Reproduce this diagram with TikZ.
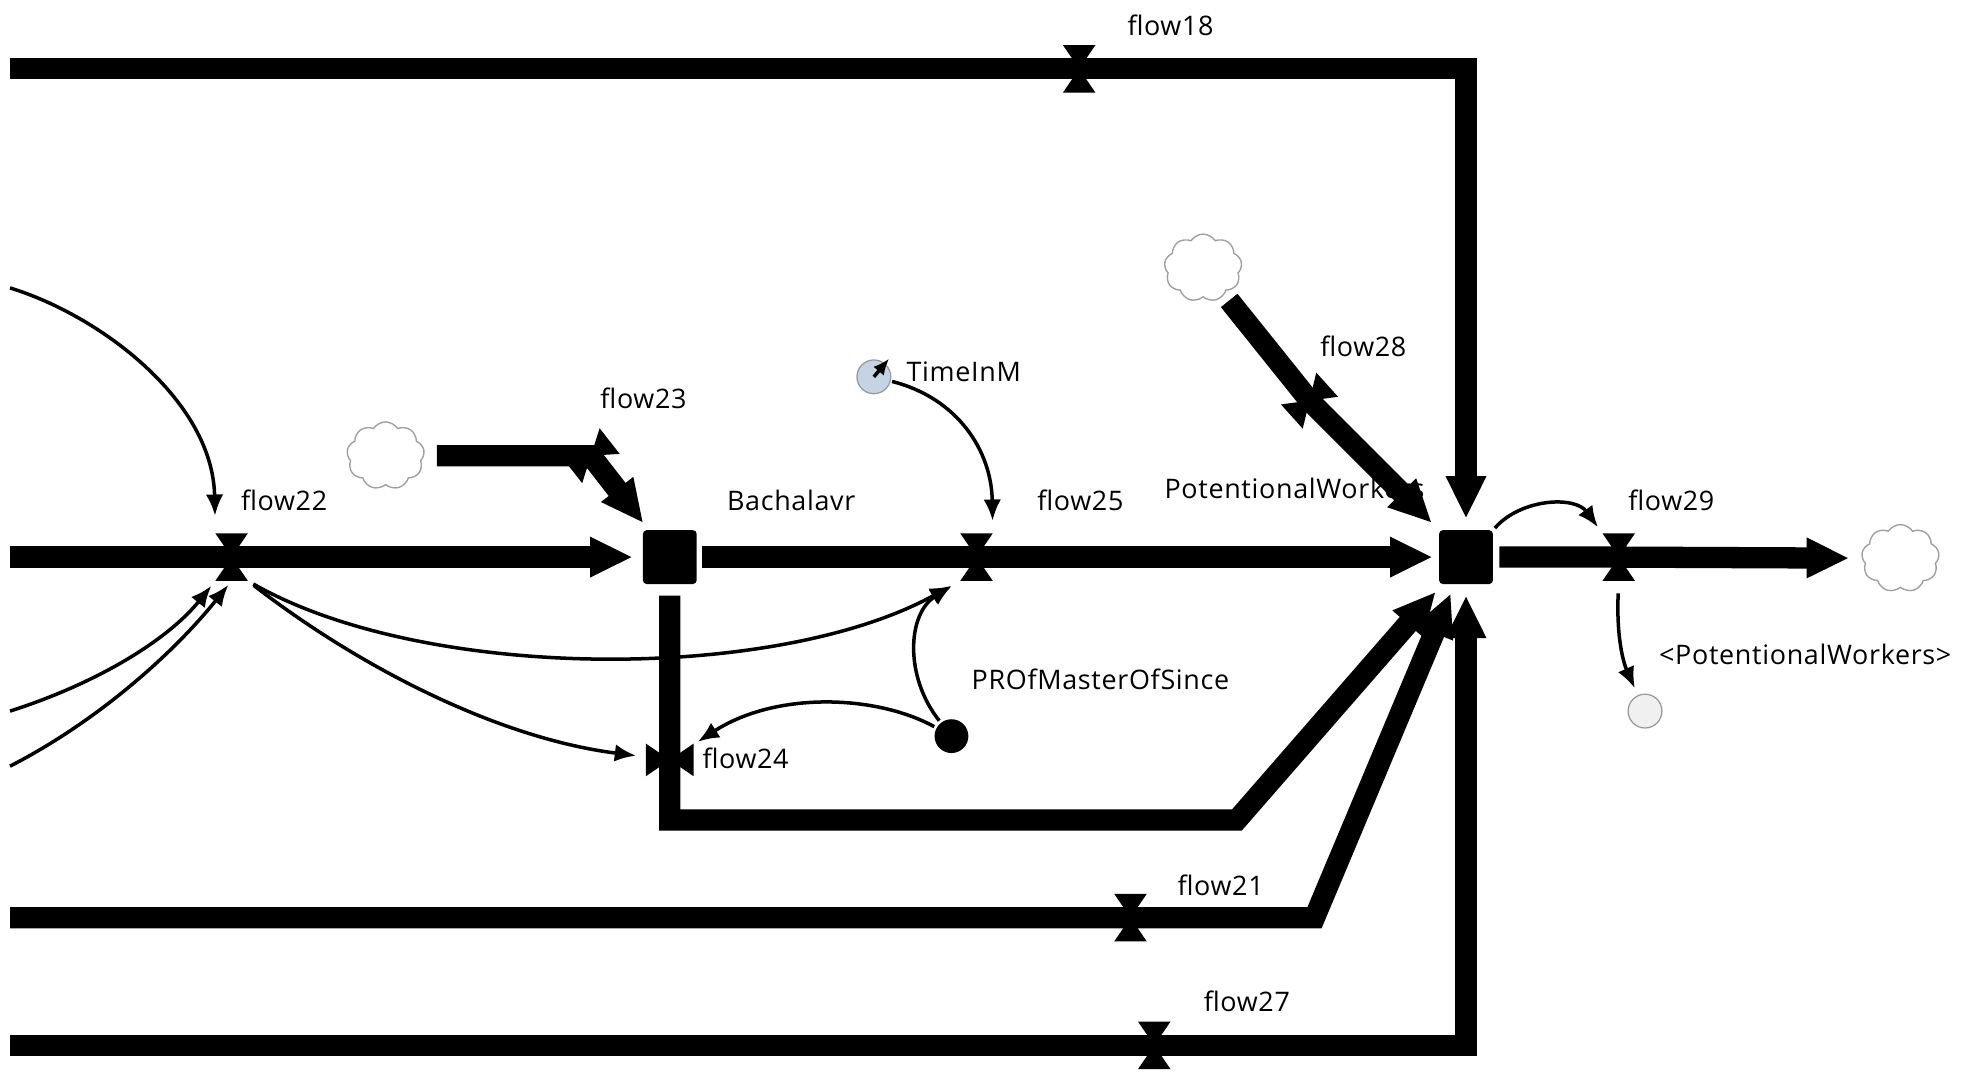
\documentclass[tikz,border=0pt]{standalone}
\usepackage{fontspec}
\setmainfont[LetterSpace=2.5]{Open Sans}
\usetikzlibrary{arrows.meta,shapes.symbols}
\definecolor{auxblue}{RGB}{196,212,228}
\tikzset{
  flow/.style={line width=17pt, line join=miter, -{Triangle[length=34pt 0 1,width=30pt 0 1]}},
  stock/.style={fill=black, rounded corners=3pt, minimum size=43pt, inner sep=0pt},
  valve/.style={minimum width=26pt, minimum height=38pt, inner sep=0pt, outer sep=0pt},
  cloudnode/.style={cloud, cloud puffs=9, cloud puff arc=115, aspect=1.15, draw=gray!75, line width=1.1pt, fill=white, minimum width=62pt, minimum height=54pt, inner sep=0pt},
  info/.style={line width=2.8pt, -{Latex[length=17pt 0 1,width=14pt 0 1]}},
  lbl/.style={font=\fontsize{21.5}{24}\selectfont, inner sep=0pt},
  aux/.style={circle, minimum size=27pt, inner sep=0pt},
  hourglass/.pic={\fill (-13,-19) -- (13,-19) -- (-13,19) -- (13,19) -- cycle;}
}
\begin{document}
\begin{tikzpicture}[x=1pt,y=-1pt]
\useasboundingbox (0,0) rectangle (1568,856);
% label partly hidden under flow28
\node[lbl, anchor=west] (tPW) at (930,390) {PotentionalWorkers};
% stocks, clouds, valves
\node[stock] (Bach) at (535,445) {};
\node[stock] (PW) at (1171,445) {};
\node[cloudnode] (cl23) at (308,364) {};
\node[cloudnode] (cl28) at (961,214) {};
\node[cloudnode] (cl29) at (1518,446) {};
\node[valve] (v18) at (862,55) {};
\node[valve] (v22) at (185,445) {};
\node[valve, rotate=-52] (v23) at (472,364) {};
\node[valve] (v25) at (780,445) {};
\node[valve, rotate=90] (v24) at (535,607) {};
\node[valve, rotate=-48] (v28) at (1046,320) {};
\node[valve] (v29) at (1293,445) {};
\node[valve] (v21) at (903,733) {};
\node[valve] (v27) at (922,835) {};
% auxiliaries
\node[aux, draw=gray!80, line width=1pt, fill=auxblue] (TIM) at (698,301) {};
\node[aux, fill=black] (PRO) at (760,588) {};
\node[aux, draw=gray!80, line width=1pt, fill=gray!12] (SH) at (1314,568) {};
% free ends and corners
\coordinate (L18) at (8,55);
\coordinate (C18) at (1171,55);
\coordinate (L22) at (8,445);
\coordinate (C24a) at (535,655);
\coordinate (C24b) at (988,655);
\coordinate (L21) at (8,733);
\coordinate (C21) at (1050,733);
\coordinate (L27) at (8,835);
\coordinate (C27) at (1171,835);
\coordinate (A1) at (8,230);
\coordinate (A2) at (8,568);
\coordinate (A3) at (8,612);
% flows
\draw[flow, shorten >=9pt] (L18) -- (v18.center) -- (C18) -- (PW);
\draw[flow, shorten >=8pt] (L22) -- (v22.center) -- (Bach);
\draw[flow, shorten <=10pt, shorten >=7pt] (cl23) -- (v23.center) -- (Bach);
\draw[flow, shorten <=4pt, shorten >=5pt] (Bach) -- (v25.center) -- (PW);
\draw[flow, shorten <=9pt, shorten >=8pt] (Bach) -- (v24.center) -- (C24a) -- (C24b) -- (PW);
\draw[flow, shorten >=8pt] (L21) -- (v21.center) -- (C21) -- (PW);
\draw[flow, shorten >=9pt] (L27) -- (v27.center) -- (C27) -- (PW);
\draw[flow, shorten <=6pt, shorten >=8pt] (cl28) -- (v28.center) -- (PW);
\draw[flow, shorten <=5pt, shorten >=10pt] (PW) -- (v29.center) -- (cl29);
% valve symbols
\foreach \v/\r in {v18/0, v22/0, v23/-52, v25/0, v24/90, v28/-48, v29/0, v21/0, v27/0}
  \pic[rotate=\r] at (\v) {hourglass};
% information links
\draw[info, shorten >=14pt] (A1) .. controls (80,252) and (170,320) .. (v22.north west);
\draw[info, shorten >=5pt] (A2) .. controls (80,545) and (135,510) .. (v22.south west);
\draw[info, shorten >=4pt] (A3) .. controls (80,575) and (140,520) .. (v22.south);
\draw[info, shorten <=5pt, shorten >=8pt] (v22.south east) .. controls (340,545) and (620,545) .. (v25.south west);
\draw[info, shorten <=6pt, shorten >=8pt] (v22.south east) .. controls (290,535) and (400,590) .. (v24);
\draw[info, shorten <=2pt, shorten >=4pt] (PRO) .. controls (700,555) and (620,552) .. (v24);
\draw[info, shorten <=2pt, shorten >=8pt] (PRO) .. controls (722,540) and (725,490) .. (v25.south west);
\draw[info, shorten <=1pt, shorten >=10pt] (TIM) .. controls (765,318) and (792,360) .. (v25.north east);
\draw[info, shorten <=2pt, shorten >=6pt] (PW.north east) .. controls (1215,398) and (1258,396) .. (v29.north west);
\draw[info, shorten <=10pt, shorten >=6pt] (v29.south) .. controls (1291,510) and (1297,530) .. (SH);
\draw[info, -{Latex[length=13pt 0 1,width=11pt 0 1]}, shorten >=-5pt] (TIM.center) -- (TIM.50);
% labels
\node[lbl] (t18) at (935,20) {flow18};
\node[lbl] (t22) at (227,400) {flow22};
\node[lbl] (t23) at (514,318) {flow23};
\node[lbl] (tB) at (632,400) {Bachalavr};
\node[lbl, anchor=west] (tTIM) at (724,297) {TimeInM};
\node[lbl] (t25) at (863,400) {flow25};
\node[lbl] (t28) at (1089,277) {flow28};
\node[lbl] (t29) at (1335,400) {flow29};
\node[lbl] (tSH) at (1442,523) {<PotentionalWorkers>};
\node[lbl, anchor=west] (tPRO) at (776,543) {PROfMasterOfSince};
\node[lbl, anchor=west] (t24) at (561,606) {flow24};
\node[lbl] (t21) at (975,707) {flow21};
\node[lbl] (t27) at (996,800) {flow27};
\end{tikzpicture}
\end{document}
